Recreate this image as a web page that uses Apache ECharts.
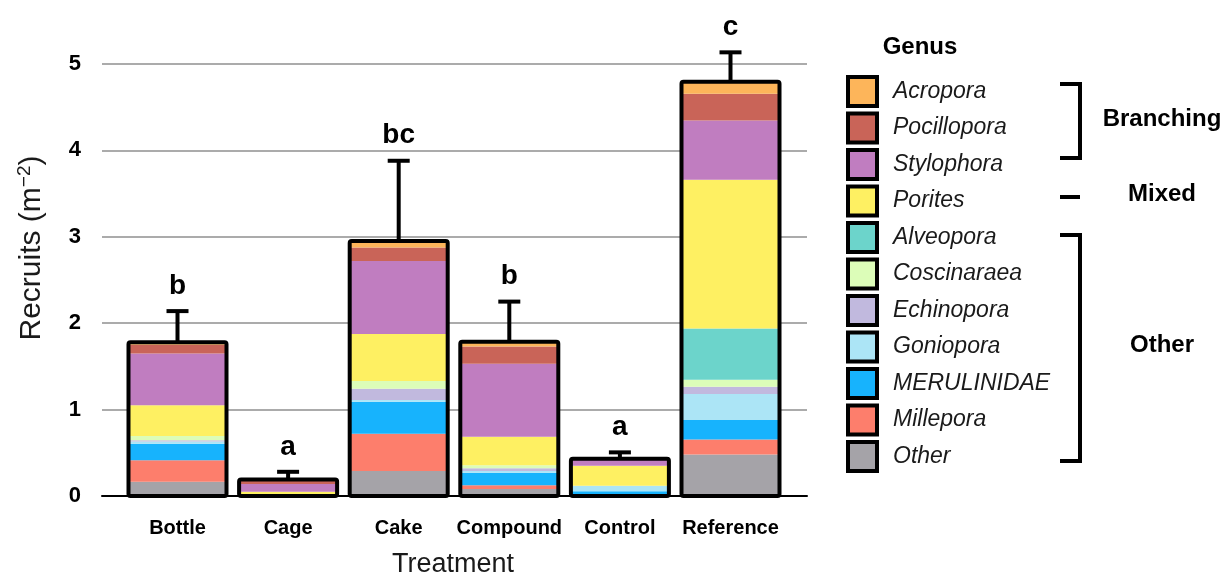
<!DOCTYPE html>
<html>
<head>
<meta charset="utf-8">
<script src="https://cdn.jsdelivr.net/npm/echarts@6/dist/echarts.min.js"></script>
<style>html,body{margin:0;padding:0;background:#fff;}#c{width:1228px;height:577px;}</style>
</head>
<body>
<div id="c"></div>
<script>
const categories = ['Bottle', 'Cage', 'Cake', 'Compound', 'Control', 'Reference'];
// stacked genus values (recruits per m^2), bottom of stack = other
const other       = [0.165, 0.005, 0.29, 0.08, 0, 0.48];
const millepora   = [0.25, 0, 0.43, 0.045, 0, 0.175];
const merulinidae = [0.19, 0.005, 0.37, 0.145, 0.055, 0.225];
const goniopora   = [0.025, 0, 0.02, 0.02, 0.065, 0.3];
const echinopora  = [0.015, 0, 0.13, 0.03, 0, 0.085];
const coscinaraea = [0.05, 0, 0.09, 0.035, 0, 0.08];
const alveopora   = [0, 0, 0, 0, 0, 0.595];
const porites     = [0.355, 0.04, 0.545, 0.33, 0.23, 1.72];
const stylophora  = [0.6, 0.09, 0.845, 0.845, 0.08, 0.685];
const pocillopora = [0.1, 0.045, 0.155, 0.2, 0, 0.31];
const acropora    = [0.03, 0.005, 0.075, 0.055, 0, 0.14];
const stdErr      = [0.36, 0.09, 0.93, 0.465, 0.075, 0.34];
const letters     = ['b', 'a', 'bc', 'b', 'a', 'c'];
const yTicks      = [0, 1, 2, 3, 4, 5];

const genera = [
  ['Other', other, '#A5A3A8'],
  ['Millepora', millepora, '#FD7E6C'],
  ['MERULINIDAE', merulinidae, '#17B3FD'],
  ['Goniopora', goniopora, '#ACE5F6'],
  ['Echinopora', echinopora, '#C1B9DE'],
  ['Coscinaraea', coscinaraea, '#DCFDB8'],
  ['Alveopora', alveopora, '#6CD4CB'],
  ['Porites', porites, '#FEF062'],
  ['Stylophora', stylophora, '#C07DC0'],
  ['Pocillopora', pocillopora, '#C96458'],
  ['Acropora', acropora, '#FDB55A']
];

const totals = categories.map((c, i) => genera.reduce((s, g) => s + g[1][i], 0));
const outlineData = categories.map((c, i) => [i, totals[i], totals[i] + stdErr[i]]);

const FONT = "'Liberation Sans', Arial, sans-serif";
const chart = echarts.init(document.getElementById('c'));

const barSeries = genera.map(g => ({
  name: g[0], type: 'bar', stack: 'total', xAxisIndex: 1, yAxisIndex: 1,
  barWidth: 98, data: g[1], itemStyle: { color: g[2] }, emphasis: { disabled: true }
}));

const option = {
  animation: false,
  grid: [
    { left: 102, right: 421, top: 64, bottom: 81 },
    { left: 122.2, right: 442.2, top: 64, bottom: 81 }
  ],
  xAxis: [
    { type: 'value', gridIndex: 0, min: 0, max: 1, axisLabel: { show: false }, axisTick: { show: false },
      splitLine: { show: false }, axisLine: { show: true, lineStyle: { color: '#000', width: 2 } } },
    { type: 'category', gridIndex: 1, data: categories, axisLine: { show: false }, axisTick: { show: false },
      axisLabel: { interval: 0, margin: 22, fontFamily: FONT, fontWeight: 'bold', fontSize: 20, color: '#000' } }
  ],
  yAxis: [
    { type: 'value', gridIndex: 0, min: 0, max: 5, interval: 1, axisLine: { show: false }, axisTick: { show: false },
      axisLabel: { margin: 21, fontFamily: FONT, fontWeight: 'bold', fontSize: 22, color: '#000',
        formatter: v => yTicks.includes(v) ? String(v) : '' },
      splitLine: { lineStyle: { color: '#8f8f8f', width: 1.5 } } },
    { type: 'value', gridIndex: 1, min: 0, max: 5, interval: 1, show: false }
  ],
  legend: {
    orient: 'vertical', left: 846, top: 75, padding: 0, itemWidth: 29, itemHeight: 29, itemGap: 3.5,
    icon: 'rect', selectedMode: false,
    data: genera.map(g => g[0]).reverse(),
    itemStyle: { borderColor: '#000', borderWidth: 4 },
    textStyle: { fontFamily: FONT, fontStyle: 'italic', fontSize: 23, color: '#1a1a1a', padding: [0, 0, 0, 11] }
  },
  series: barSeries.concat([{
    type: 'custom', xAxisIndex: 1, yAxisIndex: 1, z: 10, clip: false,
    data: outlineData, encode: { x: 0, y: [1, 2] },
    renderItem: (params, api) => {
      const i = api.value(0);
      const base = api.coord([i, 0]);
      const top = api.coord([i, api.value(1)]);
      const err = api.coord([i, api.value(2)]);
      const w = 98;
      return { type: 'group', children: [
        { type: 'line', shape: { x1: top[0], y1: top[1], x2: err[0], y2: err[1] }, style: { stroke: '#000', lineWidth: 4 } },
        { type: 'line', shape: { x1: err[0] - 11, y1: err[1], x2: err[0] + 11, y2: err[1] }, style: { stroke: '#000', lineWidth: 4 } },
        { type: 'rect', shape: { x: base[0] - w / 2, y: top[1], width: w, height: base[1] - top[1], r: 2 },
          style: { fill: 'none', stroke: '#000', lineWidth: 4 } },
        { type: 'text', style: { text: letters[params.dataIndex], x: err[0], y: err[1] - 25, align: 'center',
          verticalAlign: 'middle', font: 'bold 28px ' + FONT, fill: '#000' } }
      ] };
    }
  }]),
  graphic: [
    { type: 'text', x: 32, y: 248, rotation: Math.PI / 2,
      style: { text: '{a|Recruits (m}{s|−2}{a|)}', align: 'center', verticalAlign: 'middle',
        rich: { a: { fontFamily: FONT, fontSize: 30, fill: '#1a1a1a' },
                s: { fontFamily: FONT, fontSize: 19, fill: '#1a1a1a', verticalAlign: 'top', padding: [0, 0, 14, 0] } } } },
    { type: 'text', x: 453, y: 565, style: { text: 'Treatment', align: 'center', verticalAlign: 'middle',
        font: '27px ' + FONT, fill: '#1a1a1a' } },
    { type: 'text', x: 920, y: 47, style: { text: 'Genus', align: 'center', verticalAlign: 'middle',
        font: 'bold 24px ' + FONT, fill: '#000' } },
    { type: 'polyline', shape: { points: [[1060, 84], [1080, 84], [1080, 158], [1060, 158]] }, style: { stroke: '#000', lineWidth: 4, fill: null } },
    { type: 'line', shape: { x1: 1060, y1: 197, x2: 1080, y2: 197 }, style: { stroke: '#000', lineWidth: 4 } },
    { type: 'polyline', shape: { points: [[1060, 235], [1080, 235], [1080, 461], [1060, 461]] }, style: { stroke: '#000', lineWidth: 4, fill: null } },
    { type: 'text', x: 1162, y: 119, style: { text: 'Branching', align: 'center', verticalAlign: 'middle', font: 'bold 24px ' + FONT, fill: '#000' } },
    { type: 'text', x: 1162, y: 194, style: { text: 'Mixed', align: 'center', verticalAlign: 'middle', font: 'bold 24px ' + FONT, fill: '#000' } },
    { type: 'text', x: 1162, y: 345, style: { text: 'Other', align: 'center', verticalAlign: 'middle', font: 'bold 24px ' + FONT, fill: '#000' } }
  ]
};
chart.setOption(option);
</script>
</body>
</html>
